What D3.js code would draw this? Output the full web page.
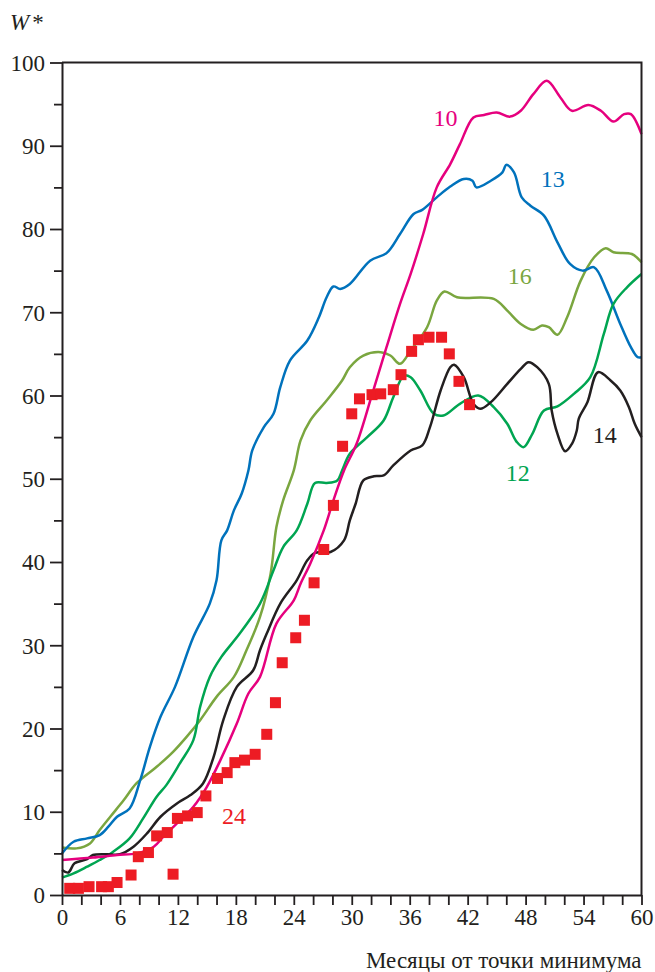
<!DOCTYPE html>
<html>
<head>
<meta charset="utf-8">
<script src="https://cdn.jsdelivr.net/npm/d3@7"></script>
<style>
  body { margin: 0; background: #fff; }
  svg text { font-family: "Liberation Serif", "DejaVu Serif", serif !important; }
</style>
</head>
<body>
<svg class="chart" width="655" height="972"></svg>
<script>
var serif = '"Liberation Serif", "DejaVu Serif", serif';

// months from minimum -> W*
var cycle10 = [[0,4.2],[3.2,4.5],[5.7,4.8],[7.7,5.0],[9.5,5.8],[10.5,7.0],[11.9,8.6],[13.6,10.6],[15.0,13.0],
  [16.4,16.2],[18.1,20.6],[19.3,24.2],[20.5,26.2],[22.2,32.6],[24.0,35.4],[24.7,37.4],[25.7,39.8],[27.1,43.8],
  [28.1,47.4],[29.2,51.0],[30.5,54.2],[32.1,60.1],[33.6,65.8],[35.0,71.0],[36.1,74.6],[37.4,79.4],[38.8,85.0],
  [40.2,87.8],[41.2,90.2],[42.6,93.4],[43.7,93.7],[45.0,94.0],[46.4,93.5],[47.5,94.2],[48.8,96.2],[50.2,97.8],
  [51.6,95.8],[52.8,94.2],[54.5,94.9],[55.8,94.2],[57.1,92.9],[58.2,93.8],[58.9,93.8],[60,91.4]];

var cycle13 = [[0,5.0],[1.2,6.4],[2.6,6.8],[3.9,7.2],[4.8,8.2],[5.7,9.4],[7.0,10.4],[8.1,13.8],[9.1,17.8],
  [10.2,21.4],[11.7,25.0],[13.6,31.0],[15.3,35.0],[16.0,37.8],[16.5,42.6],[17.1,43.8],[17.8,46.2],[18.6,48.2],
  [19.3,51.0],[19.7,53.4],[20.9,56.2],[21.9,57.8],[22.6,61.0],[23.6,64.2],[25.4,66.6],[26.6,69.4],[27.4,71.8],
  [28.1,73.1],[28.8,72.8],[29.8,73.4],[31.9,76.2],[33.6,77.1],[35.0,79.4],[36.4,81.8],[37.3,82.3],[38.8,83.8],
  [40.2,85.1],[41.6,86.0],[42.5,85.8],[42.9,85.0],[44.4,85.8],[45.6,86.8],[46.0,87.7],[46.8,86.8],[47.6,83.8],
  [48.5,82.8],[49.9,81.6],[51.3,78.4],[52.6,75.8],[53.9,75.0],[55.1,75.4],[56.4,72.6],[57.8,68.6],[58.9,65.8],
  [59.6,64.6],[60,64.6]];

var cycle16 = [[0,5.7],[1.5,5.6],[2.9,6.2],[3.9,7.8],[5.0,9.4],[6.4,11.4],[7.7,13.4],[9.8,15.4],[11.5,17.2],
  [12.9,19.0],[14.3,21.0],[16.0,23.8],[17.8,26.2],[19.1,29.4],[20.5,33.4],[21.6,38.6],[22.2,44.2],[22.9,47.4],
  [24.0,51.0],[24.7,54.6],[25.7,57.0],[27.4,59.4],[29.0,61.8],[29.8,63.4],[31.2,64.8],[33.0,65.2],[34.0,64.8],
  [35.0,63.8],[36.1,65.4],[37.8,68.2],[38.8,71.4],[39.6,72.5],[40.9,71.8],[44.7,71.6],[46.1,70.2],[47.5,68.6],
  [48.8,67.9],[49.7,68.4],[50.4,68.2],[51.3,67.3],[52.3,69.4],[53.7,73.8],[55.1,76.6],[56.3,77.7],[57.1,77.2],
  [59.0,77.0],[60,76.0]];

var cycle12 = [[0,2.1],[1.2,2.6],[2.6,3.4],[3.9,4.2],[5.3,5.2],[7.0,6.8],[8.4,9.2],[9.8,11.8],[10.8,13.2],
  [12.2,15.8],[13.6,18.6],[14.3,22.6],[15.3,26.2],[16.5,28.6],[18.4,31.4],[20.5,35.0],[21.9,39.0],[22.9,41.8],
  [24.3,43.8],[25.4,47.0],[26.2,49.5],[27.4,49.5],[28.5,49.8],[29.0,51.0],[29.8,53.0],[31.6,55.0],[33.3,57.0],
  [34.3,59.8],[35.4,62.4],[36.1,62.2],[37.1,60.6],[38.5,57.8],[39.5,57.6],[41.2,59.0],[43.1,60.0],[44.7,58.6],
  [46.1,56.6],[47.1,54.4],[47.8,53.8],[48.7,55.4],[49.9,58.2],[51.3,58.7],[53.0,60.2],[54.7,62.2],[56.1,67.4],
  [57.1,71.0],[58.5,73.0],[60,74.6]];

var cycle14 = [[0,3.0],[0.65,2.7],[1.3,3.8],[2.6,4.3],[3.2,4.8],[4.6,4.9],[6.0,4.9],[7.4,5.8],[8.8,7.4],
  [10.2,9.4],[11.9,11.0],[13.3,12.0],[14.6,13.4],[15.7,16.6],[16.7,21.0],[18.1,25.0],[19.8,27.0],[20.5,29.4],
  [21.2,31.4],[22.6,35.0],[24.3,37.8],[25.4,40.2],[26.2,41.1],[27.8,41.2],[29.2,42.6],[29.8,45.0],[30.4,47.0],
  [31.2,49.8],[32.3,50.3],[33.3,50.4],[34.3,51.6],[36.1,53.4],[37.3,54.0],[38.1,56.2],[39.2,60.6],[40.2,63.4],
  [40.6,63.7],[41.6,62.2],[42.6,59.0],[43.3,58.4],[44.4,59.2],[46.1,61.4],[47.5,63.2],[48.3,64.0],[49.2,63.4],
  [50.4,61.4],[50.7,58.2],[51.3,55.4],[52.1,53.3],[52.8,54.2],[53.3,55.8],[53.5,57.2],[54.4,59.2],[55.5,62.8],
  [56.8,61.8],[57.8,60.6],[58.7,58.6],[59.3,56.6],[60,55.0]];

// cycle 24 (squares)
var cycle24 = [[0.8,0.8],[1.7,0.8],[2.8,1.0],[4.1,1.0],[4.8,1.0],[5.7,1.5],[7.15,2.4],[7.9,4.6],[8.95,5.1],
  [9.8,7.1],[10.9,7.5],[11.5,2.5],[11.95,9.2],[13.0,9.5],[14.0,9.9],[14.9,11.9],[16.1,14.0],[17.1,14.7],
  [17.9,15.9],[18.9,16.2],[20.0,16.9],[21.2,19.3],[22.1,23.1],[22.8,27.9],[24.2,30.9],[25.1,33.0],[26.1,37.5],
  [27.1,41.5],[28.1,46.8],[29.05,53.9],[30.0,57.8],[30.8,59.6],[32.1,60.1],[33.0,60.2],[34.3,60.7],[35.1,62.5],
  [36.2,65.3],[36.9,66.7],[38.0,67.0],[39.3,67.0],[40.1,65.0],[41.1,61.7],[42.2,58.9]];

var series = [
  {name: '16', data: cycle16, color: '#7aa63f', label: [47.4, 73.4]},
  {name: '13', data: cycle13, color: '#0072bc', label: [50.8, 85.1]},
  {name: '12', data: cycle12, color: '#00a551', label: [47.2, 49.7]},
  {name: '14', data: cycle14, color: '#231f20', label: [56.2, 54.3]},
  {name: '10', data: cycle10, color: '#e6007e', label: [39.7, 92.4]}
];

var xTicks = d3.range(0, 61, 2);
var yTicks = d3.range(0, 101, 5);

var svg = d3.select('.chart');
var x = d3.scaleLinear().domain([0, 60]).range([62, 641.5]);
var y = d3.scaleLinear().domain([0, 100]).range([895, 62.5]);

var line = d3.line()
  .x(function(d) { return x(d[0]); })
  .y(function(d) { return y(d[1]); })
  .curve(d3.curveCatmullRom.alpha(0.5));

svg.append('g')
  .selectAll('path')
  .data(series)
  .enter()
  .append('path')
  .attr('d', function(d) { return line(d.data); })
  .attr('fill', 'none')
  .attr('stroke', function(d) { return d.color; })
  .attr('stroke-width', 2.5)
  .attr('stroke-linejoin', 'round');

svg.append('g')
  .selectAll('rect')
  .data(cycle24)
  .enter()
  .append('rect')
  .attr('x', function(d) { return x(d[0]) - 5.5; })
  .attr('y', function(d) { return y(d[1]) - 5.5; })
  .attr('width', 11)
  .attr('height', 11)
  .attr('fill', '#ed1c24');

// curve labels
svg.append('g')
  .selectAll('text')
  .data(series)
  .enter()
  .append('text')
  .attr('x', function(d) { return x(d.label[0]); })
  .attr('y', function(d) { return y(d.label[1]); })
  .attr('text-anchor', 'middle')
  .style('font-family', serif)
  .style('font-size', '24px')
  .attr('fill', function(d) { return d.color; })
  .text(function(d) { return d.name; });

svg.append('text')
  .attr('x', x(17.8))
  .attr('y', y(8.5))
  .attr('text-anchor', 'middle')
  .style('font-family', serif)
  .style('font-size', '24px')
  .attr('fill', '#ed1c24')
  .text('24');

// axes
var xAxis = svg.append('g')
  .attr('transform', 'translate(0,' + y(0) + ')')
  .call(d3.axisBottom(x).tickValues(xTicks).tickSize(10).tickSizeOuter(0)
    .tickFormat(function(d) { return d % 6 === 0 ? d : ''; }));

var yAxis = svg.append('g')
  .attr('transform', 'translate(' + x(0) + ',0)')
  .call(d3.axisLeft(y).tickValues(yTicks).tickSizeOuter(0)
    .tickFormat(function(d) { return d % 10 === 0 ? d : ''; }));

yAxis.selectAll('.tick line')
  .attr('x2', function(d) { return d % 10 === 0 ? -12 : -8; });
yAxis.selectAll('.tick text')
  .attr('x', -17)
  .attr('dy', '0.34em');
xAxis.selectAll('.tick text').attr('y', 14);

[xAxis, yAxis].forEach(function(g) {
  g.attr('font-family', serif).attr('font-size', 23);
  g.selectAll('.domain').attr('stroke', '#231f20').attr('stroke-width', 2);
  g.selectAll('.tick line').attr('stroke', '#231f20').attr('stroke-width', 1.8);
  g.selectAll('.tick text')
    .style('font-family', serif)
    .style('font-size', '23px')
    .attr('fill', '#231f20');
});

// frame: top and right
svg.append('path')
  .attr('d', 'M' + x(0) + ',' + y(100) + 'H' + x(60) + 'V' + y(0))
  .attr('fill', 'none')
  .attr('stroke', '#231f20')
  .attr('stroke-width', 2);

var wLabel = svg.append('text')
  .attr('x', 10)
  .attr('y', 30)
  .style('font-family', serif)
  .style('font-size', '23px')
  .attr('fill', '#231f20');
wLabel.append('tspan').style('font-style', 'italic').text('W');
wLabel.append('tspan').attr('dx', 3).text('*');

svg.append('text')
  .attr('x', x(60))
  .attr('y', 968)
  .attr('text-anchor', 'end')
  .style('font-family', serif)
  .style('font-size', '23px')
  .attr('fill', '#231f20')
  .text('Месяцы от точки минимума');
</script>
</body>
</html>
